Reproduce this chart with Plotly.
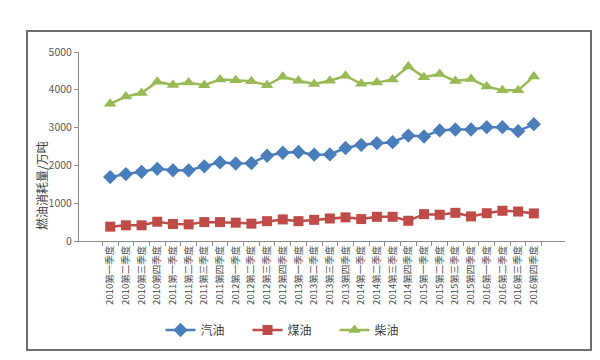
import plotly.graph_objects as go

quarters = ["第一季度", "第二季度", "第三季度", "第四季度"]
categories = [f"{y}{q}" for y in range(2010, 2017) for q in quarters]

gasoline = [1690, 1770, 1830, 1910, 1870, 1870, 1975, 2080, 2050, 2060, 2255, 2335, 2355, 2285,
            2290, 2460, 2545, 2590, 2615, 2790, 2765, 2925, 2950, 2950, 3010, 3010, 2905, 3090]
kerosene = [380, 415, 415, 510, 450, 440, 500, 500, 485, 460, 525, 570, 525, 560,
            595, 625, 580, 640, 640, 535, 710, 695, 745, 650, 735, 800, 780, 730]
diesel = [3630, 3820, 3915, 4215, 4125, 4190, 4120, 4275, 4250, 4225, 4120, 4345, 4240, 4155,
          4240, 4370, 4160, 4190, 4275, 4615, 4335, 4415, 4230, 4285, 4085, 3985, 3985, 4355]

names = ["汽油", "煤油", "柴油"]
colors = ["#4A7EBB", "#BE4B48", "#98B954"]
symbols = ["diamond", "square", "triangle-up"]
sizes = [11, 10, 11]

font = "Noto Sans CJK SC, Noto Sans, Arial, sans-serif"
fig = go.Figure()
for vals, name, c, s, sz in zip([gasoline, kerosene, diesel], names, colors, symbols, sizes):
    fig.add_trace(go.Scatter(
        x=categories, y=vals, name=name, mode="lines+markers",
        line=dict(color=c, width=2.5),
        marker=dict(symbol=s, size=sz, color=c),
        cliponaxis=False,
    ))

L, R, T, B = 71, 43, 44, 127
W, H = 600, 360
pw, ph = W - L - R, H - T - B

def px(x):
    return (x - L) / pw

def py(y):
    return (H - B - y) / ph

fig.update_layout(
    width=W, height=H,
    margin=dict(l=L, r=R, t=T, b=B),
    paper_bgcolor="white", plot_bgcolor="white",
    font=dict(family=font, color="#595959", size=10),
    showlegend=True,
    legend=dict(orientation="h", x=px(283), y=py(322), xanchor="center", yanchor="middle",
                font=dict(size=12, color="#404040"), itemwidth=30,
                entrywidth=42, entrywidthmode="pixels"),
    xaxis=dict(
        type="category", tickangle=-90, tickfont=dict(size=9.5, color="#505050"),
        showline=True, linecolor="#8c8c8c", linewidth=1,
        ticks="outside", ticklen=4, tickcolor="#8c8c8c", tickson="boundaries",
        showgrid=False, zeroline=False,
    ),
    yaxis=dict(
        range=[0, 5000], dtick=1000, tickfont=dict(size=10.5, color="#595959"),
        showline=True, linecolor="#8c8c8c", linewidth=1,
        ticks="outside", ticklen=4, tickcolor="#8c8c8c",
        showgrid=False, zeroline=False,
    ),
    annotations=[dict(
        text="燃油消耗量/万吨", textangle=-90, xref="paper", yref="paper",
        x=px(33), y=py(178), showarrow=False, font=dict(size=12, color="#404040"),
        xanchor="center", yanchor="middle",
    )],
    shapes=[dict(
        type="rect", xref="paper", yref="paper",
        x0=px(19), x1=px(583), y0=py(342), y1=py(23),
        line=dict(color="#6e6e6e", width=2), fillcolor="rgba(0,0,0,0)", layer="below",
    )],
)

fig.write_html("out.html")
